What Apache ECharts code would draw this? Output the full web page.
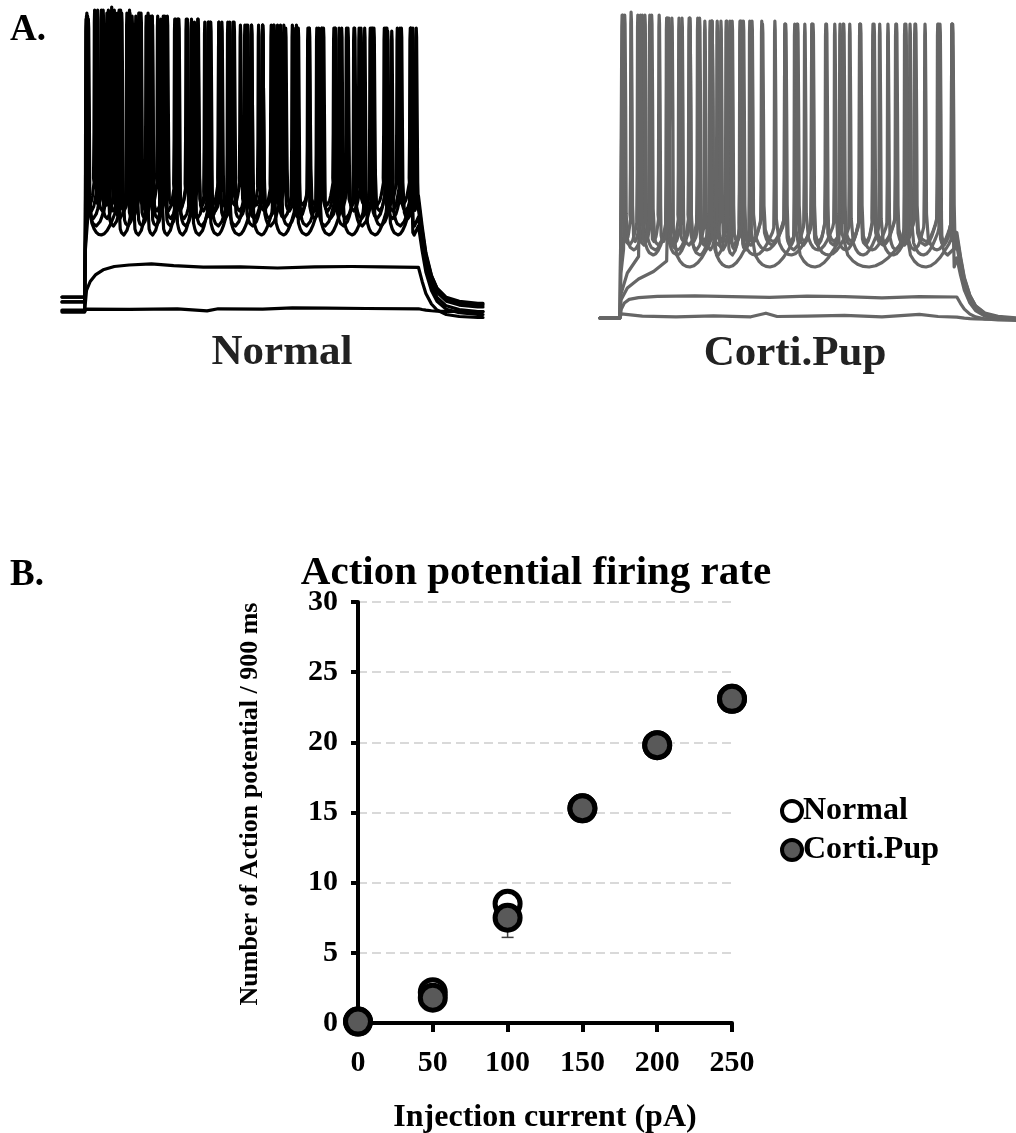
<!DOCTYPE html>
<html>
<head>
<meta charset="utf-8">
<script src="https://cdn.jsdelivr.net/npm/echarts@6/dist/echarts.min.js"></script>
<style>
  html, body { margin: 0; padding: 0; background: #fff; }
  #main { width: 1016px; height: 1133px; }
</style>
</head>
<body>
<div id="main"></div>
<script>
// ---- B. firing rate data ----
var currents = [0, 50, 100, 150, 200, 250];
var normalMean = [0.1, 2.2, 8.5, 15.3, 19.8, 23.1];
var cortiMean = [0.1, 1.8, 7.5, 15.3, 19.8, 23.1];
var normalSem = [0, 0.3, 0.6, 0.6, 0.5, 0.5];
var cortiSem = [0, 0.3, 1.4, 0.8, 0.5, 0.4];

// ---- A. example traces (time in ms from step onset, voltage in mV) ----
// step is 900 ms long; spikes are [time, peak]
var normalFlat = [[-61, -70.7], [0, -70.7], [4, -69.7], [120, -69.8], [250, -69.6], [330, -70.3], [360, -69.6],
  [480, -69.7], [560, -69.3], [650, -69.4], [760, -69.5], [900, -69.6]];
var normalSub = [[-61, -70.3], [0, -70.3], [5, -63.5], [15, -60.5], [30, -58.2], [50, -56.6], [80, -55.5],
  [120, -55], [180, -54.6], [240, -55.2], [320, -55.7], [420, -55.6], [520, -56], [620, -55.6], [720, -55.5],
  [800, -55.6], [900, -55.8]];
var normalSweeps = [
  { base: -70, end: -71.5, trough: -45, ramp: [[2, -50], [8, -40]],
    spikes: [[10, 27], [88, 29], [128, 28], [166, 28], [205, 27], [245, 27], [288, 26], [334, 26], [388, 25],
      [450, 25], [509, 25], [569, 24], [631, 24], [693, 24], [755, 24], [817, 23], [879, 24]] },
  { base: -67.3, end: -70.5, trough: -42, ramp: [[2, -48], [6, -39]],
    spikes: [[8, 28], [60, 29], [100, 29], [138, 28], [176, 28], [214, 27], [254, 27], [296, 26], [340, 26],
      [386, 26], [432, 25], [480, 25], [528, 25], [576, 24], [626, 24], [676, 24], [726, 24], [776, 24],
      [828, 23], [880, 24]] },
  { base: -67.3, end: -69, trough: -39.5, ramp: [[2, -45]],
    spikes: [[6, 29], [45, 30], [80, 30], [114, 29], [148, 29], [182, 28], [216, 28], [252, 27], [288, 27],
      [324, 26], [362, 26], [400, 26], [440, 25], [480, 25], [520, 25], [560, 25], [602, 24], [644, 24],
      [686, 24], [728, 24], [770, 24], [812, 24], [854, 24], [894, 24]] },
  { base: -65.7, end: -67.8, trough: -37, ramp: [[2, -42]],
    spikes: [[5, 28], [35, 30], [64, 30], [93, 30], [122, 29], [152, 29], [182, 28], [212, 28], [243, 27],
      [274, 27], [306, 27], [338, 26], [370, 26], [403, 26], [436, 25], [469, 25], [503, 25], [537, 25],
      [571, 25], [605, 24], [640, 24], [675, 24], [710, 24], [745, 24], [780, 24], [815, 24], [850, 24],
      [885, 24]] },
  { base: -65.7, end: -68.3, trough: -35, ramp: [[2, -40]],
    spikes: [[4, 27], [27, 30], [50, 30], [73, 31], [97, 30], [121, 30], [146, 29], [171, 29], [197, 28],
      [223, 28], [250, 27], [277, 27], [305, 27], [333, 26], [362, 26], [391, 26], [420, 25], [450, 25],
      [480, 25], [511, 25], [542, 24], [574, 24], [606, 24], [639, 24], [672, 24], [706, 24], [740, 24],
      [774, 24], [808, 24], [843, 24], [878, 24]] }
];

var cortiFlat = [[-53, -70], [0, -70], [4, -68.6], [60, -69.4], [150, -69.6], [250, -69.3], [350, -69.6],
  [390, -68.4], [420, -69.5], [500, -69.4], [600, -69.1], [700, -69.6], [800, -68.8], [850, -69.5], [900, -69.7]];
var cortiSub = [[-53, -70], [0, -70], [4, -67], [12, -65], [25, -63.8], [50, -63.2], [100, -62.8], [200, -62.6],
  [300, -62.9], [400, -63.1], [500, -62.7], [600, -62.9], [700, -63.3], [800, -62.9], [900, -63]];
var cortiSweeps = [
  { base: -70, end: -70.6, trough: -53, ramp: [[3, -64], [20, -60], [50, -57], [90, -54.5], [125, -51]],
    spikes: [[139, 30], [246, 29], [347, 29], [467, 28], [588, 28], [761, 28], [887, 28]] },
  { base: -70, end: -70.4, trough: -49, ramp: [[3, -62], [20, -55], [50, -49.5]],
    spikes: [[60, 31], [125, 30], [187, 30], [246, 29], [284, 29], [321, 29], [414, 29], [513, 28], [614, 28],
      [694, 28], [775, 28], [855, 28]] },
  { base: -70, end: -70.2, trough: -47.3, ramp: [[3, -55], [10, -47]],
    spikes: [[13, 31], [67, 31], [128, 30], [187, 30], [227, 29], [260, 29], [294, 29], [322, 29], [353, 29],
      [441, 28], [494, 28], [574, 28], [641, 28], [716, 28], [764, 28], [815, 28], [887, 28]] },
  { base: -70, end: -70, trough: -45.7, ramp: [[2, -48]],
    spikes: [[8, 31], [48, 31], [85, 31], [126, 30], [166, 30], [208, 30], [246, 29], [286, 29], [326, 29],
      [379, 29], [441, 28], [473, 28], [513, 28], [550, 28], [596, 28], [641, 28], [676, 28], [737, 28],
      [788, 28], [849, 28], [887, 28]] },
  { base: -70, end: -70.3, trough: -44.5, ramp: [[2, -46]],
    spikes: [[6, 31], [30, 32], [55, 31], [80, 31], [105, 31], [131, 30], [158, 30], [185, 30], [213, 30],
      [241, 29], [270, 29], [300, 29], [330, 29], [381, 28], [443, 28], [475, 28], [516, 28], [552, 28],
      [598, 28], [643, 28], [679, 28], [739, 28], [790, 28], [851, 28], [889, 28]] }
];

// repolarisation after the step ends (ms after offset, fraction of step left)
var offsetDt = [0, 10, 20, 35, 50, 75, 110, 160];
var offsetFrac = [1, 0.72, 0.48, 0.27, 0.15, 0.06, 0.02, 0];

// rounded after-hyperpolarisation between two spikes
// [fraction of the interval, mV above the trough]
var ahpShape = [[0.12, 4], [0.2, 2], [0.28, 0.8], [0.36, 0.2], [0.45, 0], [0.55, 0.4], [0.65, 1.5],
  [0.75, 3.2], [0.85, 5.5], [0.93, 7.5]];

var STEP_END = 900;

function addOffset(pts, v0, vEnd, tEnd) {
  for (var k = 0; k < offsetDt.length; k++) {
    pts.push([STEP_END + offsetDt[k], vEnd + (v0 - vEnd) * offsetFrac[k]]);
  }
  pts.push([tEnd, vEnd]);
  return pts;
}

function passive(points, vEnd, tEnd) {
  var pts = points.slice();
  return addOffset(pts, points[points.length - 1][1], vEnd, tEnd);
}

function spiking(sw, tStart, tEnd) {
  var T = sw.trough, th = T + 8;
  var pts = [[tStart, sw.base], [0, sw.base]].concat(sw.ramp);
  var sp = sw.spikes;
  for (var i = 0; i < sp.length; i++) {
    var t = sp[i][0], pk = sp[i][1];
    var last = i + 1 >= sp.length;
    var next = last ? STEP_END : sp[i + 1][0];
    var g = next - t;
    pts.push([t - 0.8, pk - 4]);
    pts.push([t, pk]);
    pts.push([t + 1, pk - 3]);
    pts.push([t + 2.6, pk - 30]);
    pts.push([t + 4, T + 12]);
    ahpShape.forEach(function (s) {
      if (s[0] * g > 5 && (!last || s[0] < 0.6)) pts.push([t + s[0] * g, T + s[1]]);
    });
    if (!last) {
      pts.push([next - 3, th + 1]);
      pts.push([next - 1.8, th + 16]);
    }
  }
  var v0 = T + 3;
  pts.push([STEP_END, v0]);
  return addOffset(pts, v0, sw.end, tEnd);
}

function traceSeries(data, color, idx) {
  return {
    type: 'line', xAxisIndex: idx, yAxisIndex: idx, data: data, symbol: 'none',
    silent: true, animation: false,
    lineStyle: { color: color, width: 3.2, join: 'round', cap: 'round' }
  };
}

var series = [];
series.push(traceSeries(passive(normalFlat, -70.5, 1074), '#000', 0));
series.push(traceSeries(passive(normalSub, -72.5, 1074), '#000', 0));
normalSweeps.forEach(function (sw) { series.push(traceSeries(spiking(sw, -61, 1074), '#000', 0)); });
series.push(traceSeries(passive(cortiFlat, -70.4, 1058), '#666', 1));
series.push(traceSeries(passive(cortiSub, -70.8, 1058), '#666', 1));
cortiSweeps.forEach(function (sw) { series.push(traceSeries(spiking(sw, -53, 1058), '#666', 1)); });

// error bars (drawn under the markers)
function errorSeries(mean, sem) {
  return {
    type: 'custom', xAxisIndex: 2, yAxisIndex: 2, silent: true, z: 1,
    data: currents.map(function (c, i) { return [c, mean[i] - sem[i], mean[i] + sem[i]]; }),
    renderItem: function (params, api) {
      var lo = api.coord([api.value(0), api.value(1)]);
      var hi = api.coord([api.value(0), api.value(2)]);
      var st = { stroke: '#404040', lineWidth: 1.5 };
      return { type: 'group', children: [
        { type: 'line', shape: { x1: lo[0], y1: lo[1], x2: hi[0], y2: hi[1] }, style: st },
        { type: 'line', shape: { x1: lo[0] - 6, y1: lo[1], x2: lo[0] + 6, y2: lo[1] }, style: st },
        { type: 'line', shape: { x1: hi[0] - 6, y1: hi[1], x2: hi[0] + 6, y2: hi[1] }, style: st }
      ] };
    }
  };
}
series.push(errorSeries(normalMean, normalSem));
series.push(errorSeries(cortiMean, cortiSem));

series.push({
  name: 'Normal', type: 'scatter', xAxisIndex: 2, yAxisIndex: 2, z: 3,
  data: currents.map(function (c, i) { return [c, normalMean[i]]; }),
  symbol: 'circle', symbolSize: 25,
  itemStyle: { color: '#ffffff', borderColor: '#000', borderWidth: 5, opacity: 1 }
});
series.push({
  name: 'Corti.Pup', type: 'scatter', xAxisIndex: 2, yAxisIndex: 2, z: 4,
  data: currents.map(function (c, i) { return [c, cortiMean[i]]; }),
  symbol: 'circle', symbolSize: 25,
  itemStyle: { color: '#595959', borderColor: '#000', borderWidth: 5, opacity: 1 }
});

var SERIF = "'Liberation Serif', 'Times New Roman', serif";
var axisFont = { fontFamily: SERIF, fontWeight: 'bold', fontSize: 30, color: '#000' };

var myChart = echarts.init(document.getElementById('main'), null, { renderer: 'canvas' });

var option = {
  backgroundColor: '#fff',
  animation: false,
  legend: {
    data: ['Normal', 'Corti.Pup'],
    orient: 'vertical', left: 775, top: 790,
    icon: 'circle', itemWidth: 20, itemHeight: 20, itemGap: 7,
    textStyle: { fontFamily: SERIF, fontWeight: 'bold', fontSize: 32, color: '#000', padding: [0, 0, 0, -4] },
    itemStyle: { borderWidth: 4, borderColor: '#000' },
    selectedMode: false
  },
  grid: [
    { left: 62, top: 0, width: 421, height: 330, outerBoundsMode: 'none' },
    { left: 600, top: 0, width: 416, height: 330, outerBoundsMode: 'none' },
    { left: 358, top: 602, width: 374, height: 421, outerBoundsMode: 'none' }
  ],
  xAxis: [
    { gridIndex: 0, type: 'value', min: -61, max: 1074, show: false },
    { gridIndex: 1, type: 'value', min: -53, max: 1058, show: false },
    {
      gridIndex: 2, type: 'value', min: 0, max: 250, interval: 50,
      name: 'Injection current (pA)', nameLocation: 'middle', nameGap: 79,
      nameTextStyle: { fontFamily: SERIF, fontWeight: 'bold', fontSize: 32, color: '#000' },
      axisLine: { show: true, onZero: false, lineStyle: { color: '#000', width: 4 } },
      axisTick: { show: true, inside: false, length: 9, lineStyle: { color: '#000', width: 4 } },
      axisLabel: Object.assign({ margin: 25 }, axisFont),
      splitLine: { show: false }
    }
  ],
  yAxis: [
    { gridIndex: 0, type: 'value', min: -76.67, max: 33.33, show: false },
    { gridIndex: 1, type: 'value', min: -74, max: 36, show: false },
    {
      gridIndex: 2, type: 'value', min: 0, max: 30, interval: 5,
      axisLine: { show: true, onZero: false, lineStyle: { color: '#000', width: 4 } },
      axisTick: { show: true, inside: false, length: 7, lineStyle: { color: '#000', width: 4 } },
      axisLabel: Object.assign({ margin: 20 }, axisFont),
      splitLine: { show: true, lineStyle: { color: '#d9d9d9', width: 2, type: [9, 5] } }
    }
  ],
  graphic: [
    { type: 'text', x: 10, y: 30, style: { text: 'A.', font: 'bold 37px ' + SERIF, fill: '#000', verticalAlign: 'middle' } },
    { type: 'text', x: 10, y: 575, style: { text: 'B.', font: 'bold 37px ' + SERIF, fill: '#000', verticalAlign: 'middle' } },
    { type: 'text', x: 282, y: 353, style: { text: 'Normal', font: 'bold 43px ' + SERIF, fill: '#222', align: 'center', verticalAlign: 'middle' } },
    { type: 'text', x: 795, y: 354, style: { text: 'Corti.Pup', font: 'bold 43px ' + SERIF, fill: '#222', align: 'center', verticalAlign: 'middle' } },
    { type: 'text', x: 536, y: 573, style: { text: 'Action potential firing rate', font: 'bold 41px ' + SERIF, fill: '#000', align: 'center', verticalAlign: 'middle' } },
    { type: 'text', x: 250, y: 804, rotation: Math.PI / 2,
      style: { text: 'Number of Action potential / 900 ms', font: 'bold 26px ' + SERIF, fill: '#000', align: 'center', verticalAlign: 'middle' } }
  ],
  series: series
};

myChart.setOption(option);
</script>
</body>
</html>
